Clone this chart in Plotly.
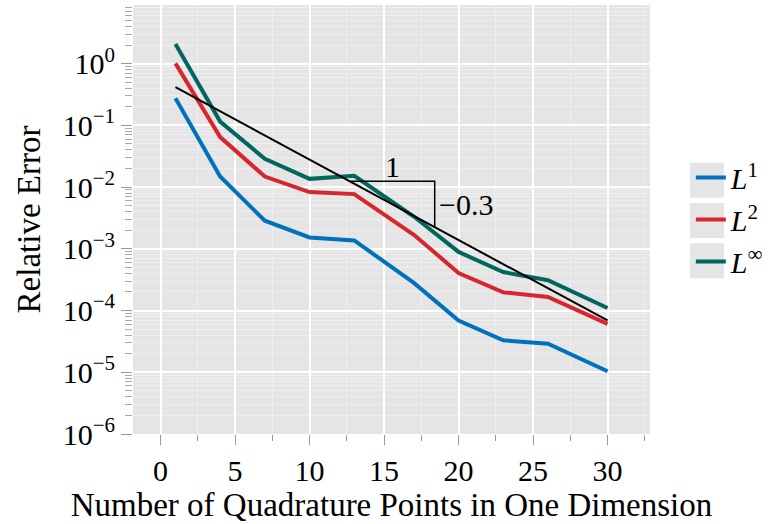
import math
import plotly.graph_objects as go

# Quadrature points per dimension
points = [1, 4, 7, 10, 13, 17, 20, 23, 26, 30]

# Relative error in three norms
err_l1 = [0.275, 0.0149, 0.00285, 0.00153, 0.00137, 2.8e-4, 6.9e-5, 3.3e-5, 2.9e-5, 1.04e-5]
err_l2 = [1.01, 0.0645, 0.0148, 0.0083, 0.0077, 0.00169, 4.06e-4, 1.97e-4, 1.66e-4, 6.07e-5]
err_linf = [2.08, 0.115, 0.0287, 0.0136, 0.0152, 0.00334, 8.9e-4, 4.2e-4, 3.1e-4, 1.1e-4]

series_names = ["<i>L</i><sup>1</sup>", "<i>L</i><sup>2</sup>", "<i>L</i><sup>∞</sup>"]
series_colors = ["#0072BD", "#D7262E", "#00675E"]

# Reference exponential rate  C * exp(rate * n)
ref_c = 0.56
ref_rate = -0.3
ref_x = [1, 30]
tri_x = [12.7, 18.4]

y_major = [1e-6, 1e-5, 1e-4, 1e-3, 1e-2, 1e-1, 1e0]
y_major_text = ["10<sup>−6</sup>", "10<sup>−5</sup>", "10<sup>−4</sup>", "10<sup>−3</sup>",
                "10<sup>−2</sup>", "10<sup>−1</sup>", "10<sup>0</sup>"]
x_major = [0, 5, 10, 15, 20, 25, 30]


def ref(n):
    return ref_c * math.exp(ref_rate * n)


FONT = "'Liberation Serif', 'DejaVu Serif', serif"
BG = "#E5E5E5"
TICK_SIZE = 30
TITLE_SIZE = 33

fig = go.Figure()
for name, ys, col in zip(series_names, [err_l1, err_l2, err_linf], series_colors):
    fig.add_trace(go.Scatter(x=points, y=ys, mode="lines", name=name,
                             line=dict(color=col, width=4)))

fig.add_trace(go.Scatter(x=ref_x, y=[ref(v) for v in ref_x], mode="lines",
                         line=dict(color="black", width=2), showlegend=False))
fig.add_trace(go.Scatter(x=[tri_x[0], tri_x[1], tri_x[1]],
                         y=[ref(tri_x[0]), ref(tri_x[0]), ref(tri_x[1])],
                         mode="lines", line=dict(color="black", width=1.5), showlegend=False))

fig.add_annotation(x=(tri_x[0] + tri_x[1]) / 2, y=math.log10(ref(tri_x[0])),
                   text="1", showarrow=False, yanchor="bottom", yshift=-4,
                   font=dict(family=FONT, size=TICK_SIZE, color="black"))
fig.add_annotation(x=tri_x[1], y=(math.log10(ref(tri_x[0])) + math.log10(ref(tri_x[1]))) / 2,
                   text="−0.3", showarrow=False, xanchor="left", xshift=2,
                   font=dict(family=FONT, size=TICK_SIZE, color="black"))

# grey key boxes behind the legend entries
for i in range(3):
    y0 = 162.7 + 40.3 * i
    fig.add_shape(type="rect", xref="paper", yref="paper",
                  x0=(690 - 133) / 517, x1=(724 - 133) / 517,
                  y0=(434 - (y0 + 35)) / 429, y1=(434 - y0) / 429,
                  fillcolor=BG, line=dict(width=0), layer="below")

minor_y = [m * 10.0 ** e for e in range(-6, 1) for m in range(2, 10)]

fig.update_layout(
    width=774, height=524,
    margin=dict(l=133, r=124, t=5, b=90),
    plot_bgcolor=BG, paper_bgcolor="white",
    font=dict(family=FONT, size=TICK_SIZE, color="black"),
    legend=dict(x=1.079, y=0.5, xanchor="left", yanchor="middle",
                font=dict(family=FONT, size=TICK_SIZE), bgcolor="rgba(0,0,0,0)",
                tracegroupgap=2, itemwidth=30),
    xaxis=dict(range=[-1.85, 32.85], tickvals=x_major, ticks="outside", ticklen=10,
               tickcolor="#999999", tickwidth=1, showgrid=True, gridcolor="white",
               gridwidth=2, zeroline=False, showline=False,
               tickfont=dict(family=FONT, size=TICK_SIZE),
               minor=dict(dtick=2.5, ticks="outside", ticklen=6, tickcolor="#999999",
                          showgrid=True, gridcolor="#EEEEEE", gridwidth=1),
               title=dict(text="Number of Quadrature Points in One Dimension",
                          font=dict(family=FONT, size=TITLE_SIZE), standoff=2)),
    yaxis=dict(type="log", range=[-6, 0.95], tickvals=y_major, ticktext=y_major_text,
               ticks="outside", ticklen=11, tickcolor="#999999", tickwidth=1,
               showgrid=True, gridcolor="white", gridwidth=2, zeroline=False,
               showline=False, tickfont=dict(family=FONT, size=TICK_SIZE),
               minor=dict(tickvals=minor_y, ticks="outside", ticklen=7, tickcolor="#AAAAAA",
                          showgrid=True, gridcolor="#EEEEEE", gridwidth=1),
               title=dict(text="Relative Error", font=dict(family=FONT, size=TITLE_SIZE),
                          standoff=12)),
)

fig.write_html("out.html")
